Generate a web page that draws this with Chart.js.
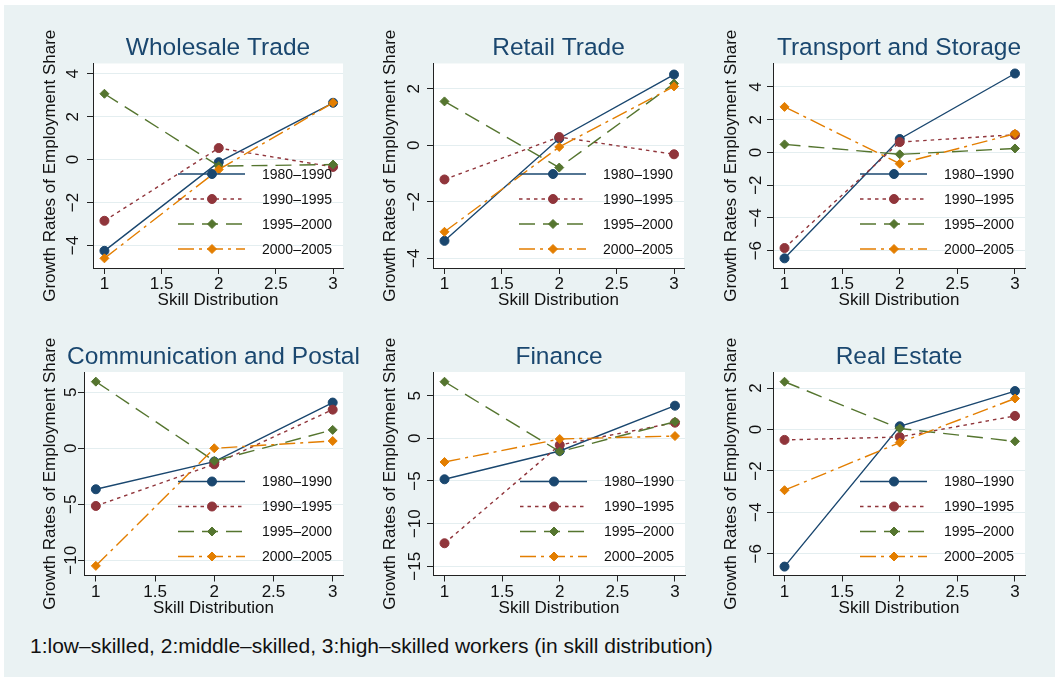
<!DOCTYPE html>
<html>
<head>
<meta charset="utf-8">
<script src="https://cdn.jsdelivr.net/npm/chart.js@4.4.1/dist/chart.umd.min.js"></script>
<style>
  html, body { margin: 0; padding: 0; background: #fff; overflow: hidden; }
  #page { position: relative; width: 1055px; height: 677px; }
  #bg { position: absolute; left: 4px; top: 5px; width: 1051px; height: 672px; background: #eaf2f3; }
  canvas { position: absolute; }
  #note { position: absolute; left: 30px; top: 635px; font: 21px "Liberation Sans", Arial, sans-serif;
          line-height: 21px; color: #111; white-space: nowrap; }
</style>
</head>
<body>
<div id="page">
  <div id="bg"></div>
  <canvas id="c0"></canvas>
  <canvas id="c1"></canvas>
  <canvas id="c2"></canvas>
  <canvas id="c3"></canvas>
  <canvas id="c4"></canvas>
  <canvas id="c5"></canvas>
  <div id="note">1:low–skilled, 2:middle–skilled, 3:high–skilled workers (in skill distribution)</div>
</div>
<script>
const skill = [1, 2, 3];
const periods = ['1980–1990', '1990–1995', '1995–2000', '2000–2005'];
const industries = ['Wholesale Trade', 'Retail Trade', 'Transport and Storage',
                    'Communication and Postal', 'Finance', 'Real Estate'];

// growth rates of employment share, one row per period (low, middle, high skilled)
const wholesale     = [[-4.25, -0.12, 2.65], [-2.85, 0.54, -0.34], [3.07, -0.30, -0.23], [-4.60, -0.46, 2.65]];
const retail        = [[-3.38, 0.24, 2.50], [-1.21, 0.29, -0.32], [1.55, -0.79, 2.18], [-3.06, -0.06, 2.08]];
const transport     = [[-6.47, 0.82, 4.82], [-5.84, 0.63, 1.08], [0.49, -0.12, 0.24], [2.78, -0.69, 1.14]];
const communication = [[-3.66, -1.19, 4.08], [-5.15, -1.43, 3.45], [5.95, -1.13, 1.64], [-10.50, 0.00, 0.65]];
const finance       = [[-4.80, -1.48, 3.83], [-12.30, -0.78, 1.84], [6.64, -1.56, 1.95], [-2.77, -0.08, 0.27]];
const realEstate    = [[-6.62, 0.16, 1.86], [-0.50, -0.36, 0.66], [2.31, 0.05, -0.57], [-2.93, -0.63, 1.50]];
const series = [wholesale, retail, transport, communication, finance, realEstate];

const xTicks = [1, 1.5, 2, 2.5, 3];
const yTicks = [[-4, -2, 0, 2, 4], [-4, -2, 0, 2], [-6, -4, -2, 0, 2, 4],
                [-10, -5, 0, 5], [-15, -10, -5, 0, 5], [-6, -4, -2, 0, 2]];
const yRange = [[-5.05, 4.48], [-4.34, 2.89], [-7.06, 5.43], [-11.36, 6.81], [-16.08, 7.78], [-7.05, 2.78]];

const colors = ['#1a476f', '#90353b', '#55752f', '#e37e00'];
const markers = ['circle', 'circle', 'rectRot', 'rectRot'];
const dashes = [[], [3.5, 4], [16, 8], [16, 5, 3, 5]];

// page layout: plot box (left, top, right, bottom), y-title centre, tick label distance
const plotBox = [
  [93, 63.5, 343, 268, 50, 20], [433, 63.5, 684, 268, 390, 19], [773, 63.5, 1025, 268, 731.7, 17],
  [84, 372, 343, 575.5, 50, 13], [433, 372, 685, 575.5, 390, 18], [773, 372, 1025, 575.5, 731.7, 17]
];
const colLeft = [4, 352, 700], canvasW = 366;
const rowTop = [5, 318], rowH = [313, 312], xTitleY = [300, 608];

const family = '"Liberation Sans", Arial, sans-serif';
Chart.defaults.font.family = family;
Chart.defaults.color = '#111';

const fmt = v => v < 0 ? '−' + Math.abs(v) : String(v);
const measure = document.createElement('canvas').getContext('2d');
measure.font = '17px ' + family;

const panelDecor = {
  id: 'panelDecor',
  beforeDraw(chart) {
    const { ctx, chartArea: a } = chart;
    ctx.save();
    ctx.fillStyle = '#fff';
    ctx.fillRect(a.left, a.top, a.width, a.height);
    ctx.restore();
  },
  afterDraw(chart, args, opts) {
    const { ctx, chartArea: a } = chart;
    ctx.save();
    ctx.font = '24.5px ' + family;
    ctx.fillStyle = '#1a476f';
    ctx.textAlign = 'center';
    ctx.textBaseline = 'alphabetic';
    ctx.fillText(opts.title, (a.left + a.right) / 2, a.top - 8.5);

    // legend sits inside the plot, bottom right
    chart.data.datasets.forEach((ds, k) => {
      const y = a.bottom - 19 - (3 - k) * 25;
      ctx.strokeStyle = ds.borderColor;
      ctx.lineWidth = ds.borderWidth;
      ctx.setLineDash(ds.borderDash);
      ctx.beginPath();
      ctx.moveTo(a.right - 165, y);
      ctx.lineTo(a.right - 98, y);
      ctx.stroke();
      ctx.setLineDash([]);
      ctx.fillStyle = ds.backgroundColor;
      ctx.lineWidth = ds.pointBorderWidth;
      Chart.helpers.drawPoint(ctx, { pointStyle: ds.pointStyle, radius: ds.pointRadius,
        rotation: 0, borderWidth: ds.pointBorderWidth }, a.right - 131, y);
      ctx.fillStyle = '#111';
      ctx.font = '14px ' + family;
      ctx.textAlign = 'left';
      ctx.textBaseline = 'middle';
      ctx.fillText(ds.label, a.right - 81, y + 1);
    });
    ctx.restore();
  }
};

function makeChart(i) {
  const canvas = document.getElementById('c' + i);
  const col = i % 3, row = Math.floor(i / 3);
  const cx = colLeft[col], cy = rowTop[row], ch = rowH[row];
  canvas.style.left = cx + 'px';
  canvas.style.top = cy + 'px';
  canvas.width = canvasW;
  canvas.height = ch;

  const [pl, pt, pr, pb, ytx, labDist] = plotBox[i];
  const yLeft = ytx - 10.2;
  const yW = pl - yLeft;
  const xH = xTitleY[row] + 10.2 - pb;
  const widest = Math.max(...yTicks[i].map(v => measure.measureText(fmt(v)).width));

  new Chart(canvas, {
    type: 'line',
    data: {
      datasets: periods.map((p, k) => ({
        label: p,
        data: skill.map((s, j) => ({ x: s, y: series[i][k][j] })),
        borderColor: colors[k],
        backgroundColor: colors[k],
        borderWidth: 1.4,
        borderDash: dashes[k],
        pointStyle: markers[k],
        pointRadius: 4.5,
        pointHoverRadius: 4.5,
        pointBorderWidth: 1,
        order: 3 - k,
        tension: 0
      }))
    },
    options: {
      responsive: false,
      animation: false,
      events: [],
      layout: { padding: { left: yLeft - cx, right: cx + canvasW - pr, top: pt - cy, bottom: cy + ch - pb - xH } },
      plugins: {
        legend: { display: false },
        tooltip: { enabled: false },
        panelDecor: { title: industries[i] }
      },
      scales: {
        x: {
          type: 'linear',
          min: 0.9,
          max: 3.087,
          afterBuildTicks: s => { s.ticks = xTicks.map(v => ({ value: v })); },
          afterFit: s => { s.height = xH; },
          grid: { drawOnChartArea: false, tickColor: '#222', tickLength: 6 },
          border: { color: '#222', width: 1 },
          ticks: { font: { size: 17, lineHeight: 1 }, color: '#111', padding: 2, maxRotation: 0, callback: v => String(v) },
          title: { display: true, text: 'Skill Distribution', font: { size: 17, lineHeight: 1.2 }, color: '#111', padding: 0 }
        },
        y: {
          type: 'linear',
          min: yRange[i][0],
          max: yRange[i][1],
          afterBuildTicks: s => { s.ticks = yTicks[i].map(v => ({ value: v })); },
          afterFit: s => { s.width = yW; },
          grid: { color: '#e4eef0', lineWidth: 1, tickColor: '#222', tickLength: 6 },
          border: { color: '#222', width: 1 },
          ticks: { font: { size: 17 }, color: '#111', minRotation: 90, maxRotation: 90, crossAlign: 'center',
                   padding: labDist - 6 - widest / 2, callback: v => fmt(v) },
          title: { display: true, text: 'Growth Rates of Employment Share', font: { size: 17, lineHeight: 1.2 }, color: '#111', padding: 0 }
        }
      }
    },
    plugins: [panelDecor]
  });
}

for (let i = 0; i < 6; i++) makeChart(i);
</script>
</body>
</html>
